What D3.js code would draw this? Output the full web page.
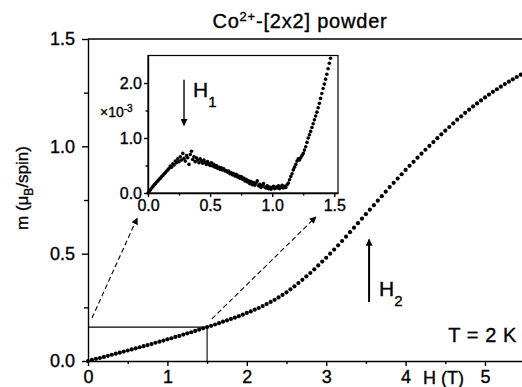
<!DOCTYPE html>
<html>
<head>
<meta charset="utf-8">
<script src="https://cdn.jsdelivr.net/npm/d3@7"></script>
<style>
  body { margin: 0; background: #fff; }
  svg { display: block; font-family: "Liberation Sans", Arial, sans-serif; }
  svg text { stroke: #000; stroke-width: 0.35px; fill: #000; }
</style>
</head>
<body>
<svg id="chart" width="522" height="387"></svg>
<script>
// main curve m(H), T = 2 K  [H (T), m (muB/spin)]
const mainPoints = [
  [0.00,0.000],[0.05,0.005],[0.10,0.010],[0.15,0.014],[0.20,0.019],[0.25,0.024],[0.30,0.029],
  [0.35,0.034],[0.40,0.039],[0.45,0.044],[0.50,0.049],[0.55,0.054],[0.60,0.059],[0.65,0.064],
  [0.70,0.069],[0.75,0.074],[0.80,0.079],[0.85,0.085],[0.90,0.090],[0.95,0.095],[1.00,0.101],
  [1.05,0.106],[1.10,0.112],[1.15,0.117],[1.20,0.123],[1.25,0.129],[1.30,0.134],[1.35,0.140],
  [1.40,0.146],[1.45,0.152],[1.50,0.158],[1.55,0.164],[1.60,0.170],[1.65,0.176],[1.70,0.183],
  [1.75,0.189],[1.80,0.196],[1.85,0.202],[1.90,0.209],[1.95,0.216],[2.00,0.224],[2.05,0.231],
  [2.10,0.239],[2.15,0.247],[2.20,0.256],[2.25,0.265],[2.30,0.275],[2.35,0.285],[2.40,0.296],
  [2.45,0.308],[2.50,0.320],[2.55,0.334],[2.60,0.348],[2.65,0.363],[2.70,0.378],[2.75,0.394],
  [2.80,0.410],[2.85,0.427],[2.90,0.445],[2.95,0.463],[3.00,0.481],[3.05,0.500],[3.10,0.519],
  [3.15,0.539],[3.20,0.559],[3.25,0.579],[3.30,0.600],[3.35,0.621],[3.40,0.642],[3.45,0.663],
  [3.50,0.684],[3.55,0.705],[3.60,0.726],[3.65,0.747],[3.70,0.768],[3.75,0.789],[3.80,0.810],
  [3.85,0.830],[3.90,0.850],[3.95,0.870],[4.00,0.890],[4.05,0.909],[4.10,0.928],[4.15,0.947],
  [4.20,0.966],[4.25,0.984],[4.30,1.002],[4.35,1.020],[4.40,1.038],[4.45,1.056],[4.50,1.073],
  [4.55,1.090],[4.60,1.107],[4.65,1.124],[4.70,1.140],[4.75,1.156],[4.80,1.171],[4.85,1.186],
  [4.90,1.200],[4.95,1.214],[5.00,1.228],[5.05,1.241],[5.10,1.254],[5.15,1.266],[5.20,1.278],
  [5.25,1.290],[5.30,1.301],[5.35,1.312],[5.40,1.323],[5.45,1.334],[5.50,1.344]
];

// inset: low-field part, values in units of 1e-3 muB/spin
const insetPoints = [
  [0.00,0.00],[0.01,0.03],[0.02,0.06],[0.03,0.09],[0.04,0.12],[0.05,0.15],[0.06,0.17],[0.07,0.20],
  [0.08,0.22],[0.09,0.25],[0.10,0.27],[0.11,0.30],[0.12,0.32],[0.13,0.35],[0.14,0.37],[0.15,0.40],
  [0.16,0.42],[0.17,0.45],[0.18,0.49],[0.19,0.47],[0.20,0.53],[0.21,0.51],[0.22,0.58],[0.23,0.55],
  [0.24,0.62],[0.25,0.57],[0.26,0.66],[0.27,0.60],[0.28,0.72],[0.29,0.63],[0.30,0.58],[0.31,0.68],
  [0.32,0.64],[0.33,0.52],[0.34,0.70],[0.35,0.76],[0.36,0.61],[0.37,0.66],[0.38,0.57],[0.39,0.64],
  [0.40,0.60],[0.41,0.55],[0.42,0.62],[0.43,0.58],[0.44,0.54],[0.45,0.60],[0.46,0.56],[0.47,0.52],
  [0.48,0.57],[0.49,0.53],[0.50,0.50],[0.51,0.55],[0.52,0.49],[0.53,0.52],[0.54,0.47],[0.55,0.50],
  [0.56,0.45],[0.57,0.47],[0.58,0.43],[0.59,0.46],[0.60,0.42],[0.61,0.44],[0.62,0.40],[0.63,0.41],
  [0.64,0.38],[0.65,0.40],[0.66,0.35],[0.67,0.37],[0.68,0.33],[0.69,0.35],[0.70,0.31],[0.71,0.34],
  [0.72,0.29],[0.73,0.31],[0.74,0.27],[0.75,0.30],[0.76,0.25],[0.77,0.27],[0.78,0.22],[0.79,0.25],
  [0.80,0.20],[0.81,0.22],[0.82,0.17],[0.83,0.21],[0.84,0.15],[0.85,0.19],[0.86,0.14],[0.87,0.18],
  [0.88,0.22],[0.89,0.13],[0.90,0.16],[0.91,0.10],[0.92,0.14],[0.93,0.17],[0.94,0.11],[0.95,0.09],
  [0.96,0.13],[0.97,0.08],[0.98,0.11],[0.99,0.07],[1.00,0.10],[1.01,0.12],[1.02,0.08],[1.03,0.11],
  [1.04,0.09],[1.05,0.13],[1.06,0.08],[1.07,0.10],[1.08,0.14],[1.09,0.09],[1.10,0.12],[1.11,0.10],
  [1.12,0.15],[1.13,0.18],[1.14,0.24],[1.15,0.30],[1.16,0.35],[1.17,0.42],[1.18,0.47],[1.19,0.52],
  [1.20,0.58],[1.21,0.62],[1.22,0.60],[1.23,0.64],[1.24,0.68],[1.25,0.72],[1.26,0.78],[1.27,0.84],
  [1.28,0.92],[1.29,1.00],[1.30,1.06],[1.31,1.12],[1.32,1.19],[1.33,1.26],[1.34,1.33],[1.35,1.40],
  [1.36,1.47],[1.37,1.55],[1.38,1.63],[1.39,1.72],[1.40,1.81],[1.41,1.90],[1.42,1.98],[1.43,2.07],
  [1.44,2.16],[1.45,2.26],[1.46,2.36],[1.47,2.45]
];

const mainXTicks = [0, 1, 2, 3, 4, 5];
const mainXMinor = [0.5, 1.5, 2.5, 3.5, 4.5];
const mainYTicks = [0, 0.5, 1.0, 1.5];
const mainYMinor = [0.25, 0.75, 1.25];
const insetXTicks = [0, 0.5, 1.0, 1.5];
const insetXMinor = [0.25, 0.75, 1.25];
const insetYTicks = [0, 1.0, 2.0];
const insetYMinor = [0.5, 1.5];

// zoom box: the inset shows H <= 1.5 T, m at 1.5 T
const boxH = 1.5, boxM = 0.158;
const h1Field = 0.29, h2Field = 3.54;

const svg = d3.select("#chart");

const x = d3.scaleLinear().domain([0, 5.5]).range([88, 524.7]);
const y = d3.scaleLinear().domain([0, 1.5]).range([361, 39]);
const ix = d3.scaleLinear().domain([0, 1.53]).range([148, 338]);
const iy = d3.scaleLinear().domain([0, 2.5]).range([193, 55.5]);

const defs = svg.append("defs");
defs.append("marker")
  .attr("id", "head")
  .attr("viewBox", "0 0 10 10")
  .attr("refX", 9).attr("refY", 5)
  .attr("markerWidth", 7).attr("markerHeight", 7)
  .attr("markerUnits", "userSpaceOnUse")
  .attr("orient", "auto")
  .append("path").attr("d", "M0,0 L10,5 L0,10 Z").attr("fill", "#000");

function styleAxis(g, size) {
  g.selectAll("path, line").attr("stroke", "#000").attr("stroke-width", 1.4);
  g.selectAll("text").style("font-size", size + "px").attr("font-family", null);
}

// --- main axes ---
svg.append("g").attr("transform", "translate(0,361)")
  .call(d3.axisBottom(x).tickValues(mainXTicks).tickFormat(d3.format("d")).tickSize(5).tickSizeOuter(0).tickPadding(4))
  .call(g => styleAxis(g, 18));
svg.append("g").attr("transform", "translate(0,361)")
  .call(d3.axisBottom(x).tickValues(mainXMinor).tickFormat("").tickSize(3).tickSizeOuter(0))
  .call(g => { g.select(".domain").remove(); styleAxis(g, 18); });

svg.append("g").attr("transform", "translate(88,0)")
  .call(d3.axisLeft(y).tickValues(mainYTicks).tickFormat(d3.format(".1f")).tickSize(6).tickSizeOuter(0).tickPadding(7))
  .call(g => styleAxis(g, 18));
svg.append("g").attr("transform", "translate(88,0)")
  .call(d3.axisLeft(y).tickValues(mainYMinor).tickFormat("").tickSize(4).tickSizeOuter(0))
  .call(g => { g.select(".domain").remove(); styleAxis(g, 18); });

// top frame line
svg.append("line")
  .attr("x1", x(0)).attr("x2", x(5.5)).attr("y1", y(1.5)).attr("y2", y(1.5))
  .attr("stroke", "#000").attr("stroke-width", 1.4);

// zoom box lines
svg.append("path")
  .attr("d", `M${x(0)},${y(boxM)} H${x(boxH)} V${y(0)}`)
  .attr("fill", "none").attr("stroke", "#000").attr("stroke-width", 1.1);

// dashed arrows to inset corners
const dashArrows = [
  { from: [0.05, 0.20], to: [0.62, 0.666] },
  { from: [1.56, 0.196], to: [2.87, 0.671] }
];
svg.append("g").selectAll("line").data(dashArrows).join("line")
  .attr("x1", d => x(d.from[0])).attr("y1", d => y(d.from[1]))
  .attr("x2", d => x(d.to[0])).attr("y2", d => y(d.to[1]))
  .attr("stroke", "#000").attr("stroke-width", 1.1)
  .attr("stroke-dasharray", "5,3")
  .attr("marker-end", "url(#head)");

// main dots
svg.append("g").selectAll("circle").data(mainPoints).join("circle")
  .attr("cx", d => x(d[0])).attr("cy", d => y(d[1]))
  .attr("r", 2.1).attr("fill", "#000");

// H2 arrow
svg.append("line")
  .attr("x1", x(h2Field)).attr("x2", x(h2Field))
  .attr("y1", y(0.275)).attr("y2", y(0.566))
  .attr("stroke", "#000").attr("stroke-width", 2)
  .attr("marker-end", "url(#head)");
const h2 = svg.append("text").attr("x", x(h2Field) + 10).attr("y", 296)
  .style("font-size", "21px");
h2.append("tspan").text("H");
h2.append("tspan").attr("dy", 10).style("font-size", "15px").text("2");

// title
const title = svg.append("text").attr("x", 300).attr("y", 28)
  .attr("text-anchor", "middle").style("font-size", "20px").style("letter-spacing", "0.8px");
title.append("tspan").text("Co");
title.append("tspan").attr("dy", -7).style("font-size", "13px").text("2+");
title.append("tspan").attr("dy", 7).text("-[2x2] powder");

// T = 2 K
svg.append("text").attr("x", 517).attr("y", 342).attr("text-anchor", "end")
  .style("font-size", "20px").style("letter-spacing", "0.6px").text("T = 2 K");

// x label
svg.append("text").attr("x", 423).attr("y", 384).style("font-size", "18px").text("H (T)");

// y label
const yl = svg.append("text")
  .attr("transform", "translate(28,188) rotate(-90)")
  .attr("text-anchor", "middle").style("font-size", "17px");
yl.append("tspan").text("m  (\u03bc");
yl.append("tspan").attr("dy", 5).style("font-size", "12px").text("B");
yl.append("tspan").attr("dy", -5).text("/spin)");

// --- inset ---
const inset = svg.append("g");
inset.append("rect")
  .attr("x", ix(0)).attr("y", iy(2.5))
  .attr("width", ix(1.53) - ix(0)).attr("height", iy(0) - iy(2.5))
  .attr("fill", "#fff").attr("stroke", "#000").attr("stroke-width", 1.2);

inset.append("g").attr("transform", `translate(0,${iy(0)})`)
  .call(d3.axisBottom(ix).tickValues(insetXTicks).tickFormat(d3.format(".1f")).tickSize(4).tickSizeOuter(0).tickPadding(3))
  .call(g => styleAxis(g, 16));
inset.append("g").attr("transform", `translate(0,${iy(0)})`)
  .call(d3.axisBottom(ix).tickValues(insetXMinor).tickFormat("").tickSize(2.5).tickSizeOuter(0))
  .call(g => { g.select(".domain").remove(); styleAxis(g, 16); });
inset.append("g").attr("transform", `translate(${ix(0)},0)`)
  .call(d3.axisLeft(iy).tickValues(insetYTicks).tickFormat(d3.format(".1f")).tickSize(4).tickSizeOuter(0).tickPadding(2))
  .call(g => styleAxis(g, 16));
inset.append("g").attr("transform", `translate(${ix(0)},0)`)
  .call(d3.axisLeft(iy).tickValues(insetYMinor).tickFormat("").tickSize(2.5).tickSizeOuter(0))
  .call(g => { g.select(".domain").remove(); styleAxis(g, 16); });

inset.selectAll(".dot").data(insetPoints).join("circle")
  .attr("class", "dot")
  .attr("cx", d => ix(d[0])).attr("cy", d => iy(d[1]))
  .attr("r", 1.8).attr("fill", "#000");

// x10^-3 label
const sc = inset.append("text").attr("x", 100).attr("y", 117).style("font-size", "14px");
sc.append("tspan").text("\u00d710");
sc.append("tspan").attr("dy", -5).style("font-size", "10px").text("-3");

// H1 arrow
inset.append("line")
  .attr("x1", ix(h1Field)).attr("x2", ix(h1Field))
  .attr("y1", iy(2.06)).attr("y2", iy(1.23))
  .attr("stroke", "#000").attr("stroke-width", 1.4)
  .attr("marker-end", "url(#head)");
const h1 = inset.append("text").attr("x", ix(h1Field) + 9).attr("y", 97)
  .style("font-size", "21px");
h1.append("tspan").text("H");
h1.append("tspan").attr("dy", 10).style("font-size", "15px").text("1");
</script>
</body>
</html>
